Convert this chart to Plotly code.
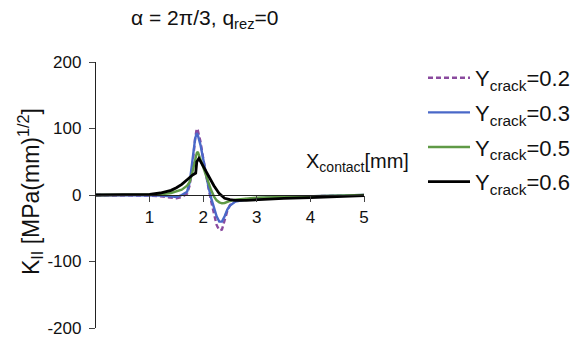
import plotly.graph_objects as go

# Contact position along the surface, mm
x_02 = [0, 0.5, 0.8, 1.0, 1.2, 1.4, 1.5, 1.6, 1.7, 1.75, 1.8, 1.85, 1.88, 1.9, 1.95, 2.0,
        2.05, 2.1, 2.15, 2.2, 2.25, 2.3, 2.35, 2.4, 2.45, 2.5, 2.6, 2.8, 3.0, 3.5, 4.0, 4.5, 5.0]
k_02 = [0, 0, 0, -1, -2, -4, -5, -3, 2, 15, 45, 85, 100, 97, 80, 55,
        30, 10, -10, -30, -45, -53, -52, -38, -24, -15, -9, -6, -5, -3, -2, -1, 0]

x_03 = x_02
k_03 = [0, 0, 0, -0.5, -1, -2, -3, 0, 5, 20, 55, 85, 93, 90, 75, 52,
        30, 12, -5, -20, -32, -40, -40, -32, -22, -16, -10, -7, -5, -3, -2, -1, 0]

x_05 = x_02
k_05 = [0, 0, 0, 0.5, 1, 3, 5, 8, 14, 20, 35, 55, 63, 65, 55, 42,
        30, 18, 7, -2, -8, -11, -12.5, -12, -10, -9, -7, -5, -4, -3, -2, -1, 0]

x_06 = [0, 0.5, 0.8, 1.0, 1.2, 1.4, 1.5, 1.6, 1.7, 1.75, 1.8, 1.86, 1.88, 1.92, 2.0,
        2.1, 2.2, 2.3, 2.4, 2.5, 2.6, 2.8, 3.0, 3.5, 4.0, 4.5, 5.0]
k_06 = [0, 0, 0.5, 1, 3, 7, 11, 16, 23, 27, 30, 33, 50, 55, 43,
        29, 14, 2, -5, -7, -8, -8, -7, -5, -4, -2, -1]

x_ticks = [1, 2, 3, 4, 5]
y_ticks = [-200, -100, 0, 100, 200]
y_tick_text = ["-200", "-100", "0", "100", "200"]

series = [
    ("Y<sub>crack</sub>=0.2", x_02, k_02, "#8a4a9e", "5px,3px", 2.4),
    ("Y<sub>crack</sub>=0.3", x_03, k_03, "#4a68c8", "solid", 2.4),
    ("Y<sub>crack</sub>=0.5", x_05, k_05, "#5f9a46", "solid", 2.4),
    ("Y<sub>crack</sub>=0.6", x_06, k_06, "#000000", "solid", 2.8),
]

fig = go.Figure()
for i, (name, xs, ys, color, dash, w) in enumerate(series):
    fig.add_trace(go.Scatter(x=xs, y=ys, mode="lines", name=name, legendgroup=f"g{i}",
                             line=dict(color=color, dash=dash, width=w)))

L, R, T, B = 96, 220, 62, 12
W, H = 584, 340
pw, ph = W - L - R, H - T - B


def px(xp):
    return (xp - L) / pw


def py(yp):
    return (H - B - yp) / ph


font = dict(family="Liberation Sans, Arial, sans-serif", color="#111111")

fig.update_layout(
    width=W, height=H,
    margin=dict(l=L, r=R, t=T, b=B, autoexpand=False),
    paper_bgcolor="white", plot_bgcolor="white",
    font=dict(**font, size=17),
    showlegend=True,
    legend=dict(x=px(423), y=py(57), xanchor="left", yanchor="top",
                font=dict(size=22), bgcolor="rgba(0,0,0,0)", itemwidth=42,
                tracegroupgap=3),
    xaxis=dict(range=[0, 5], tickvals=x_ticks, ticks="outside", ticklen=6,
               tickwidth=1.3, showline=True, linecolor="#222", linewidth=1.3,
               showgrid=False, zeroline=False, anchor="free", position=0.5,
               tickfont=dict(size=17)),
    yaxis=dict(range=[-200, 200], tickvals=y_ticks, ticktext=y_tick_text,
               ticks="outside", ticklen=6, tickwidth=1.3, showline=True,
               linecolor="#222", linewidth=1.3, showgrid=False, zeroline=False,
               tickfont=dict(size=17), ticklabelstandoff=4),
    annotations=[
        dict(text="\u03b1 = 2\u03c0/3, q<sub>rez</sub>=0", x=px(204), y=py(19),
             xanchor="center", yanchor="middle",
             xref="paper", yref="paper", showarrow=False, font=dict(size=21)),
        dict(text="K<sub>II</sub> [MPa(mm)<sup>1/2</sup>]", x=px(30), y=py(192),
             xanchor="center", yanchor="middle",
             xref="paper", yref="paper", showarrow=False, textangle=-90,
             font=dict(size=23)),
        dict(text="X<sub>contact</sub>[mm]", x=px(304), y=py(162), xanchor="left",
             yanchor="middle",
             xref="paper", yref="paper", showarrow=False, font=dict(size=20)),
    ],
)

fig.write_html("out.html")
